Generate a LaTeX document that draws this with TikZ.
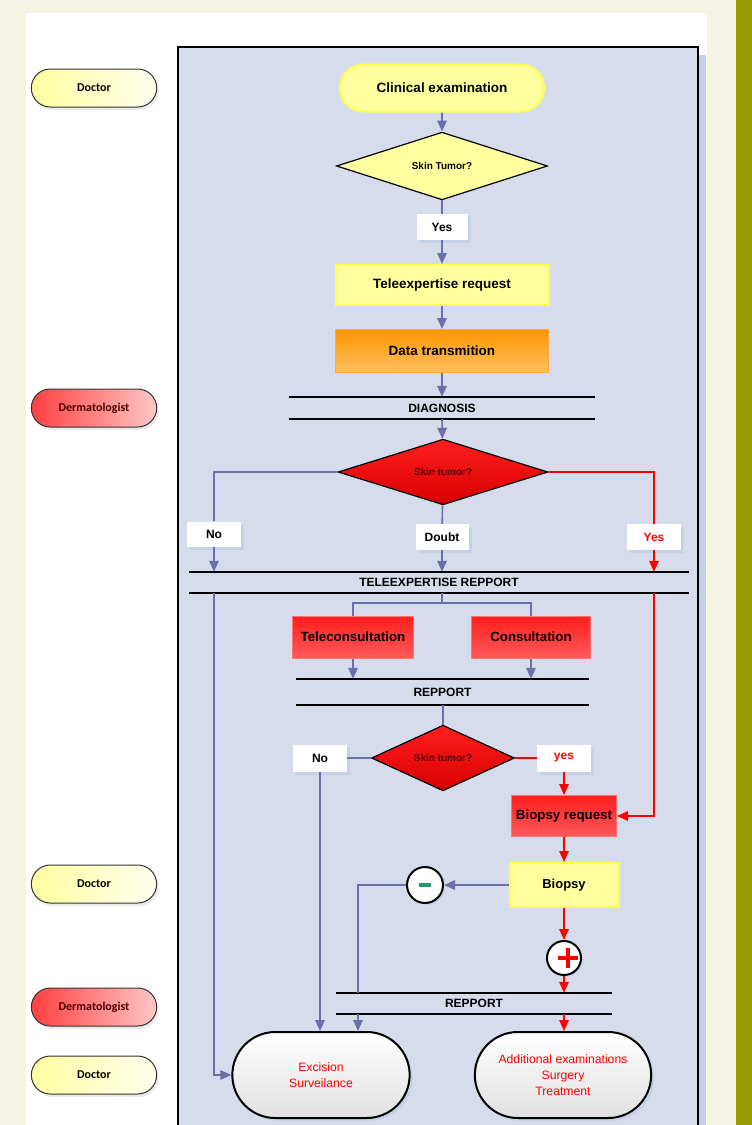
\documentclass[tikz,border=0pt]{standalone}
\usepackage{fontspec}
\setmainfont{Liberation Sans}
\newfontfamily\rolefont{Carlito}
\usetikzlibrary{arrows.meta, positioning, shapes.geometric, shapes.misc, shadows}
\definecolor{cream}{RGB}{245,244,228}
\definecolor{olivebar}{RGB}{153,153,0}
\definecolor{panel}{RGB}{214,220,236}
\definecolor{panelshade}{RGB}{196,208,230}
\definecolor{flowblue}{RGB}{108,112,170}
\definecolor{lemon}{RGB}{255,255,160}
\definecolor{lemonedge}{RGB}{255,255,80}
\definecolor{alarm}{RGB}{255,0,0}
\definecolor{boxred}{RGB}{255,30,30}
\definecolor{minusgreen}{RGB}{40,150,110}
\newcommand{\plusmark}{\rlap{\rule[-1.75pt]{20pt}{3.5pt}}\hspace{8.25pt}\rule[-10pt]{3.5pt}{20pt}\hspace{8.25pt}}
\tikzset{%
	role/.style={
		rounded rectangle,
		draw=black!80,
		line width=1pt,
		minimum width=132pt,
		minimum height=38pt,
		font=\rolefont\bfseries\fontsize{12}{13}\selectfont,
		drop shadow={shadow xshift=2pt, shadow yshift=-3pt, fill=black, opacity=0.08}
	},
	doctor/.style={role, left color=lemon, right color=yellow!6},
	dermato/.style={role, left color=boxred!85, right color=red!22, text=black!70!red},
	yellowbox/.style={rectangle, fill=lemon, draw=lemonedge, line width=2pt,
		font=\bfseries\fontsize{13.5}{15}\selectfont},
	redbox/.style={rectangle, top color=boxred, bottom color=red!65, draw=red!55, line width=1pt,
		inner sep=1pt, font=\bfseries\fontsize{13.3}{15}\selectfont},
	question/.style={diamond, draw=black, line width=1.2pt, inner sep=0pt,
		font=\bfseries\fontsize{10}{12}\selectfont},
	redquestion/.style={question, top color=boxred, bottom color=red!85!black, text=black!70!red},
	answer/.style={rectangle, fill=white, inner sep=0pt, font=\bfseries\fontsize{12}{14}\selectfont,
		drop shadow={shadow xshift=3pt, shadow yshift=-3pt, fill=panelshade, opacity=0.9}},
	stage/.style={rectangle, inner sep=0pt, font=\bfseries\fontsize{12}{14}\selectfont},
	outcome/.style={rounded rectangle, draw=black, line width=2pt, top color=white, bottom color=black!12,
		text=alarm, align=center, font=\fontsize{12.2}{16}\selectfont,
		minimum width=184pt, minimum height=86pt,
		drop shadow={shadow xshift=3pt, shadow yshift=-3pt, fill=panelshade, opacity=0.9}},
	sign/.style={circle, draw=black, line width=2pt, fill=white, minimum size=36pt, inner sep=0pt,
		drop shadow={shadow xshift=2pt, shadow yshift=-2pt, fill=panelshade, opacity=0.9}},
	flow/.style={draw=flowblue, line width=1.6pt},
	redflow/.style={draw=alarm, line width=1.6pt},
	arr/.style={-{Triangle[length=11pt,width=9.5pt]}},
}
\begin{document}
\begin{tikzpicture}[x=1pt, y=-1pt]
	\useasboundingbox (0,0) rectangle (752,1125);
	% page and panel
	\fill[cream] (0,0) rectangle (752,1125);
	\fill[white] (26,13) rectangle (707,1125);
	\fill[olivebar] (736,0) rectangle (752,1125);
	\fill[panelshade] (186,55) rectangle (706,1140);
	\draw[line width=2pt, fill=panel] (178,47) rectangle (698,1140);

	% roles
	\node[doctor] (doc1) at (94,88) {Doctor};
	\node[dermato] (derm1) at (94,408) {Dermatologist};
	\node[doctor] (doc2) at (94,884) {Doctor};
	\node[dermato] (derm2) at (94,1007) {Dermatologist};
	\node[doctor] (doc3) at (94,1075) {Doctor};

	% steps
	\node[yellowbox, rounded rectangle, minimum width=211pt, minimum height=47pt] (clin) at (442,88) {Clinical examination};
	\node[question, fill=lemon, minimum width=211pt, minimum height=57pt] (tumor1) at (442,166) {Skin Tumor?};
	\node[answer, minimum width=51pt, minimum height=26pt] (yes1) at (442,227) {Yes};
	\node[yellowbox, minimum width=213pt, minimum height=40pt] (telereq) at (442,285) {Teleexpertise request};
	\node[rectangle, top color={rgb,255:red,255;green,150;blue,0}, bottom color={rgb,255:red,255;green,192;blue,96},
		draw={rgb,255:red,255;green,170;blue,60}, line width=1pt, minimum width=213pt, minimum height=43pt,
		font=\bfseries\fontsize{13.5}{15}\selectfont] (data) at (442,351) {Data transmition};
	\node[stage, minimum width=306pt, minimum height=22pt] (diag) at (442,408) {DIAGNOSIS};
	\node[redquestion, minimum width=210pt, minimum height=54pt] (tumor2) at (443,472) {Skin tumor?};
	\node[answer, minimum width=54pt, minimum height=25pt] (no1) at (214,534) {No};
	\node[answer, minimum width=53pt, minimum height=26pt] (doubt) at (442,537) {Doubt};
	\node[answer, text=alarm, minimum width=54pt, minimum height=26pt] (yes2) at (654,537) {Yes};
	\node[stage, minimum width=500pt, minimum height=21pt] (telerep) at (439,582.5) {TELEEXPERTISE REPPORT};
	\coordinate (split) at (442,603);
	\node[redbox, minimum width=121pt, minimum height=42pt] (telecons) at (353,637) {Teleconsultation};
	\node[redbox, minimum width=119pt, minimum height=42pt] (cons) at (531,637) {Consultation};
	\node[stage, minimum width=293pt, minimum height=26pt] (rep1) at (442.5,692) {REPPORT};
	\node[redquestion, minimum width=143pt, minimum height=53pt] (tumor3) at (443,758) {Skin tumor?};
	\node[answer, minimum width=54pt, minimum height=27pt] (no2) at (320,758) {No};
	\node[answer, text=alarm, minimum width=54pt, minimum height=27pt] (yes3) at (564,758) {yes};
	\node[redbox, minimum width=105pt, minimum height=41pt] (bioreq) at (564,816) {Biopsy request};
	\node[yellowbox, minimum width=109pt, minimum height=44pt, font=\bfseries\fontsize{13}{15}\selectfont] (biopsy) at (564,885) {Biopsy};
	\node[sign] (minus) at (425,885) {\color{minusgreen}\rule[-2pt]{12pt}{4pt}};
	\node[sign, minimum size=34pt] (plus) at (564,958) {\color{alarm}\plusmark};
	\node[stage, minimum width=276pt, minimum height=21pt] (rep2) at (474,1003.5) {REPPORT};
	\node[outcome] (exc) at (321,1075) {Excision\\Surveilance};
	\node[outcome, minimum width=183pt] (more) at (563,1075) {Additional examinations\\Surgery\\Treatment};

	\foreach \b in {diag,telerep,rep1,rep2} {
		\draw[line width=2pt] (\b.north west) -- (\b.north east);
		\draw[line width=2pt] (\b.south west) -- (\b.south east);
	}

	\draw[flow,arr] (clin) -- (tumor1);
	\draw[flow] (tumor1) -- (yes1);
	\draw[flow,arr] (yes1) -- (telereq);
	\draw[flow,arr] (telereq) -- (data);
	\draw[flow,arr] (data) -- (diag.north);
	\draw[flow,arr] (diag.south) -- (tumor2);
	\draw[flow] (tumor2.west) -| (no1);
	\draw[flow,arr] (no1) -- (no1 |- telerep.north);
	\draw[flow] (tumor2) -- (doubt);
	\draw[flow,arr] (doubt) -- (doubt |- telerep.north);
	\draw[redflow] (tumor2.east) -| (yes2);
	\draw[redflow,arr] (yes2) -- (yes2 |- telerep.north);
	\draw[flow,arr] (no1 |- telerep.south) |- (exc.west);
	\draw[redflow,arr] (yes2 |- telerep.south) |- (bioreq.east);
	\draw[flow] (doubt |- telerep.south) -- (split);
	\draw[flow] (split) -| (telecons);
	\draw[flow] (split) -| (cons);
	\draw[flow,arr] (telecons) -- (telecons |- rep1.north);
	\draw[flow,arr] (cons) -- (cons |- rep1.north);
	\draw[flow] (rep1.south -| tumor3) -- (tumor3);
	\draw[flow] (tumor3) -- (no2);
	\draw[redflow] (tumor3) -- (yes3);
	\draw[flow,arr] (no2) -- (no2 |- exc.north);
	\draw[redflow,arr] (yes3) -- (bioreq);
	\draw[redflow,arr] (bioreq) -- (biopsy);
	\draw[flow,arr] (biopsy) -- (minus);
	\coordinate (turn) at (358,885);
	\draw[flow] (minus) -- (turn) -- (turn |- rep2.north);
	\draw[flow,arr] (turn |- rep2.south) -- (turn |- exc.north);
	\draw[redflow,arr] (biopsy) -- (plus);
	\draw[redflow,arr] (plus) -- (plus |- rep2.north);
	\draw[redflow,arr] (plus |- rep2.south) -- (plus |- more.north);
\end{tikzpicture}
\end{document}
